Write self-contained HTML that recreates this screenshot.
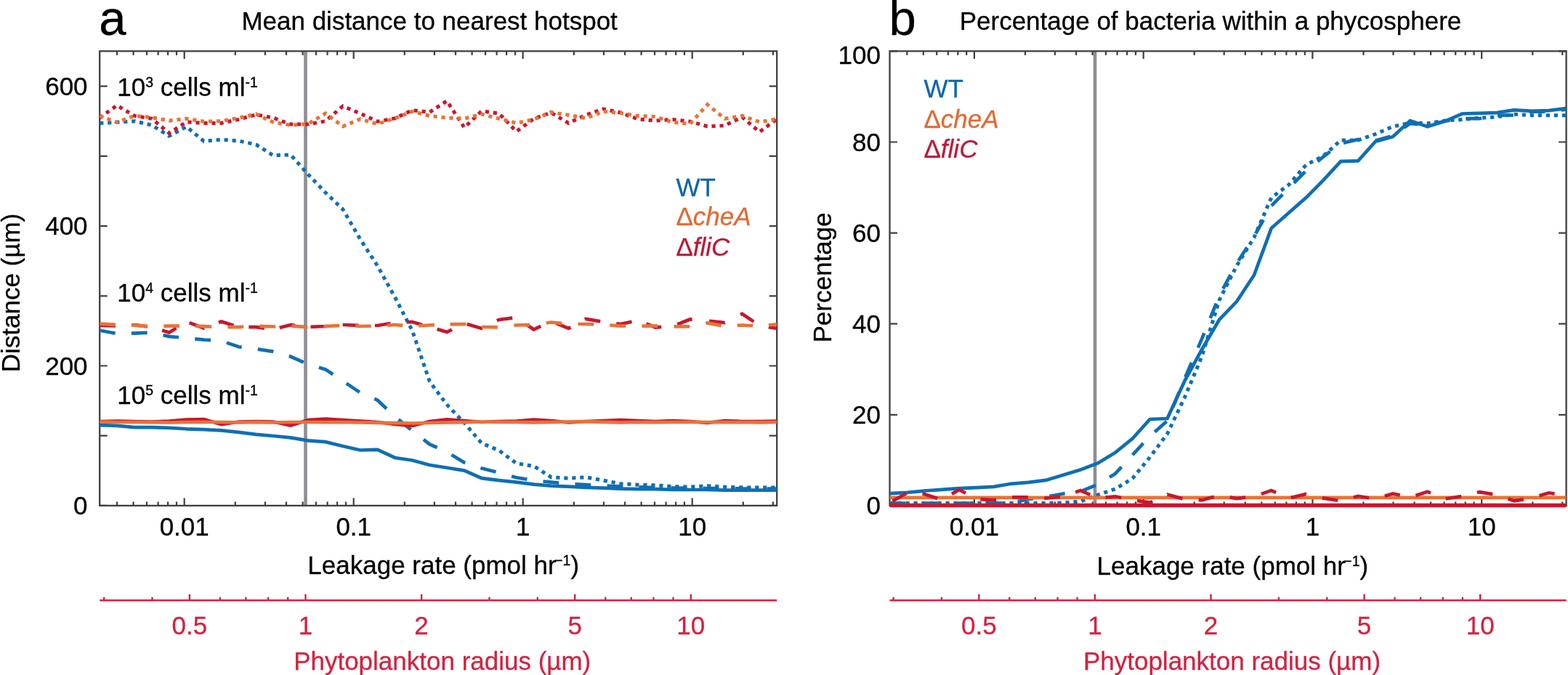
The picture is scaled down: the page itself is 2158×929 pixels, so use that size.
<!DOCTYPE html>
<html><head><meta charset="utf-8"><title>Figure</title>
<style>html,body{margin:0;padding:0;background:#fff;width:2158px;height:929px;overflow:hidden}</style>
</head><body>
<svg width="2158" height="929" viewBox="0 0 2158 929" style="display:block">
<g font-family="'Liberation Sans', sans-serif">
<rect width="2158" height="929" fill="#fff"/>
<defs>
<clipPath id="ca"><rect x="137.2" y="70.4" width="932.0" height="628.5"/></clipPath>
<clipPath id="cb"><rect x="1224.5" y="70.4" width="931.1" height="629.5"/></clipPath>
</defs>
<line x1="420.5" y1="70.4" x2="420.5" y2="695.9" stroke="#8e8e93" stroke-width="4.6"/>
<path d="M161.0 695.9L161.0 690.4 M161.0 70.4L161.0 75.9 M183.6 695.9L183.6 690.4 M183.6 70.4L183.6 75.9 M202.0 695.9L202.0 690.4 M202.0 70.4L202.0 75.9 M217.6 695.9L217.6 690.4 M217.6 70.4L217.6 75.9 M231.1 695.9L231.1 690.4 M231.1 70.4L231.1 75.9 M243.0 695.9L243.0 690.4 M243.0 70.4L243.0 75.9 M253.7 695.9L253.7 685.4 M253.7 70.4L253.7 80.9 M323.8 695.9L323.8 690.4 M323.8 70.4L323.8 75.9 M364.9 695.9L364.9 690.4 M364.9 70.4L364.9 75.9 M394.0 695.9L394.0 690.4 M394.0 70.4L394.0 75.9 M416.6 695.9L416.6 690.4 M416.6 70.4L416.6 75.9 M435.0 695.9L435.0 690.4 M435.0 70.4L435.0 75.9 M450.6 695.9L450.6 690.4 M450.6 70.4L450.6 75.9 M464.1 695.9L464.1 690.4 M464.1 70.4L464.1 75.9 M476.0 695.9L476.0 690.4 M476.0 70.4L476.0 75.9 M486.7 695.9L486.7 685.4 M486.7 70.4L486.7 80.9 M556.8 695.9L556.8 690.4 M556.8 70.4L556.8 75.9 M597.9 695.9L597.9 690.4 M597.9 70.4L597.9 75.9 M627.0 695.9L627.0 690.4 M627.0 70.4L627.0 75.9 M649.6 695.9L649.6 690.4 M649.6 70.4L649.6 75.9 M668.0 695.9L668.0 690.4 M668.0 70.4L668.0 75.9 M683.6 695.9L683.6 690.4 M683.6 70.4L683.6 75.9 M697.1 695.9L697.1 690.4 M697.1 70.4L697.1 75.9 M709.0 695.9L709.0 690.4 M709.0 70.4L709.0 75.9 M719.7 695.9L719.7 685.4 M719.7 70.4L719.7 80.9 M789.8 695.9L789.8 690.4 M789.8 70.4L789.8 75.9 M830.9 695.9L830.9 690.4 M830.9 70.4L830.9 75.9 M860.0 695.9L860.0 690.4 M860.0 70.4L860.0 75.9 M882.6 695.9L882.6 690.4 M882.6 70.4L882.6 75.9 M901.0 695.9L901.0 690.4 M901.0 70.4L901.0 75.9 M916.6 695.9L916.6 690.4 M916.6 70.4L916.6 75.9 M930.1 695.9L930.1 690.4 M930.1 70.4L930.1 75.9 M942.0 695.9L942.0 690.4 M942.0 70.4L942.0 75.9 M952.7 695.9L952.7 685.4 M952.7 70.4L952.7 80.9 M1022.8 695.9L1022.8 690.4 M1022.8 70.4L1022.8 75.9 M1063.9 695.9L1063.9 690.4 M1063.9 70.4L1063.9 75.9 M137.2 695.9L147.7 695.9 M1069.2 695.9L1058.7 695.9 M137.2 599.7L147.7 599.7 M1069.2 599.7L1058.7 599.7 M137.2 503.5L147.7 503.5 M1069.2 503.5L1058.7 503.5 M137.2 407.3L147.7 407.3 M1069.2 407.3L1058.7 407.3 M137.2 311.1L147.7 311.1 M1069.2 311.1L1058.7 311.1 M137.2 214.9L147.7 214.9 M1069.2 214.9L1058.7 214.9 M137.2 118.7L147.7 118.7 M1069.2 118.7L1058.7 118.7" stroke="#404040" stroke-width="2.2" fill="none"/>
<rect x="137.2" y="70.4" width="932.0" height="625.5" fill="none" stroke="#404040" stroke-width="2.3"/>
<polyline points="137.2,169.4 161.1,168.3 185.0,166.7 208.9,172.2 232.8,187.2 256.7,174.4 280.6,194.4 304.5,192.2 328.4,193.9 352.3,198.9 376.2,214.0 400.1,213.0 424.0,240.0 447.9,265.0 471.8,288.0 495.7,329.0 519.6,366.0 543.5,409.0 567.4,455.0 591.3,525.0 615.1,557.0 639.0,582.0 662.9,610.0 686.8,620.0 710.7,637.7 734.6,641.6 758.5,656.7 782.4,658.2 806.3,656.7 830.2,661.2 854.1,665.7 878.0,667.2 901.9,667.8 925.8,669.6 949.7,670.2 973.6,668.7 997.5,670.2 1021.4,670.8 1045.3,671.1 1069.2,671.1" fill="none" stroke="#0f6fb3" stroke-width="5.0" stroke-linejoin="miter" stroke-miterlimit="3" stroke-linecap="butt" stroke-dasharray="5.2 5.8" clip-path="url(#ca)"/>
<polyline points="137.2,454.7 161.1,459.2 185.0,458.6 208.9,457.7 232.8,463.1 256.7,465.2 280.6,467.6 304.5,469.1 328.4,477.3 352.3,480.3 376.2,483.9 400.1,490.8 424.0,501.5 447.9,508.4 471.8,524.3 495.7,540.4 519.6,550.7 543.5,573.3 567.4,593.0 591.3,611.4 615.1,622.0 639.0,636.5 662.9,644.6 686.8,650.6 710.7,657.3 734.6,661.2 758.5,663.6 782.4,665.7 806.3,667.2 830.2,668.5 854.1,669.5 878.0,670.2 901.9,671.0 925.8,671.5 949.7,672.0 973.6,672.0 997.5,672.3 1021.4,672.5 1045.3,672.6 1069.2,672.6" fill="none" stroke="#0f6fb3" stroke-width="4.7" stroke-linejoin="miter" stroke-miterlimit="3" stroke-linecap="butt" stroke-dasharray="21.8 22.3" clip-path="url(#ca)"/>
<polyline points="137.2,585.2 161.1,585.8 185.0,588.2 208.9,588.2 232.8,588.8 256.7,590.3 280.6,591.2 304.5,592.4 328.4,594.9 352.3,597.9 376.2,600.0 400.1,602.4 424.0,606.3 447.9,608.2 471.8,614.0 495.7,619.5 519.6,618.8 543.5,630.0 567.4,633.5 591.3,640.0 615.1,643.7 639.0,647.6 662.9,658.2 686.8,661.2 710.7,663.6 734.6,666.6 758.5,668.7 782.4,669.6 806.3,670.8 830.2,671.7 854.1,672.6 878.0,673.2 901.9,673.2 925.8,673.8 949.7,674.0 973.6,674.0 997.5,674.7 1021.4,674.7 1045.3,674.7 1069.2,674.7" fill="none" stroke="#0f6fb3" stroke-width="4.7" stroke-linejoin="miter" stroke-miterlimit="3" stroke-linecap="butt" clip-path="url(#ca)"/>
<polyline points="137.2,162.2 161.1,145.0 185.0,159.4 208.9,163.3 232.8,183.3 256.7,167.8 280.6,169.4 304.5,169.4 328.4,164.4 352.3,157.8 376.2,162.2 400.1,171.1 424.0,171.1 447.9,166.7 471.8,146.1 495.7,156.1 519.6,167.2 543.5,162.8 567.4,151.7 591.3,154.4 615.1,138.9 639.0,175.6 662.9,152.8 686.8,156.1 710.7,181.1 734.6,163.3 758.5,155.0 782.4,169.4 806.3,158.3 830.2,150.0 854.1,155.0 878.0,163.9 901.9,166.1 925.8,164.4 949.7,167.2 973.6,173.9 997.5,172.8 1021.4,161.2 1045.3,181.5 1069.2,163.9" fill="none" stroke="#c8172e" stroke-width="5.0" stroke-linejoin="miter" stroke-miterlimit="3" stroke-linecap="butt" stroke-dasharray="5.2 5.8" clip-path="url(#ca)"/>
<polyline points="137.2,448.0 161.1,448.5 185.0,447.1 208.9,450.1 232.8,457.7 256.7,442.6 280.6,451.7 304.5,442.6 328.4,450.1 352.3,450.1 376.2,453.2 400.1,447.1 424.0,450.1 447.9,449.0 471.8,447.0 495.7,448.0 519.6,448.0 543.5,444.0 567.4,443.0 591.3,450.0 615.1,457.0 639.0,445.0 662.9,452.0 686.8,440.0 710.7,437.0 734.6,453.5 758.5,442.0 782.4,452.0 806.3,439.0 830.2,443.0 854.1,446.0 878.0,441.0 901.9,450.5 925.8,449.0 949.7,439.5 973.6,441.5 997.5,444.0 1021.4,432.0 1045.3,448.0 1069.2,452.0" fill="none" stroke="#c8172e" stroke-width="4.7" stroke-linejoin="miter" stroke-miterlimit="3" stroke-linecap="butt" stroke-dasharray="21.80 22.26 21.80 20.89 21.80 20.88 21.80 21.34 21.80 21.05 21.80 20.99 21.80 21.71 21.80 22.47 21.80 22.47 21.80 22.29 21.80 21.57 21.80 22.84 21.80 22.84 21.80 23.48 21.80 23.31 21.80 22.21 21.80 22.11 21.80 20.89 21.80 22.47 21.80 23.51 21.80 23.82 21.80 22.30 21.80 22.30" clip-path="url(#ca)"/>
<polyline points="137.2,580.0 161.1,579.5 185.0,580.0 208.9,580.5 232.8,579.5 256.7,577.5 280.6,577.0 304.5,584.0 328.4,580.5 352.3,580.0 376.2,580.5 400.1,585.5 424.0,578.0 447.9,576.5 471.8,578.0 495.7,579.5 519.6,581.0 543.5,584.0 567.4,586.0 591.3,580.0 615.1,577.3 639.0,579.0 662.9,581.0 686.8,580.0 710.7,579.5 734.6,577.5 758.5,579.0 782.4,581.5 806.3,580.0 830.2,579.0 854.1,578.0 878.0,579.0 901.9,580.0 925.8,579.0 949.7,580.0 973.6,582.0 997.5,579.0 1021.4,580.0 1045.3,580.0 1069.2,579.5" fill="none" stroke="#c8172e" stroke-width="4.7" stroke-linejoin="miter" stroke-miterlimit="3" stroke-linecap="butt" clip-path="url(#ca)"/>
<polyline points="137.2,159.4 161.1,168.3 185.0,159.4 208.9,161.7 232.8,166.1 256.7,163.3 280.6,167.2 304.5,166.7 328.4,162.2 352.3,157.2 376.2,168.3 400.1,172.2 424.0,170.6 447.9,156.1 471.8,173.9 495.7,163.9 519.6,170.6 543.5,162.8 567.4,153.3 591.3,159.4 615.1,162.2 639.0,163.3 662.9,157.2 686.8,163.3 710.7,169.4 734.6,164.4 758.5,154.4 782.4,158.3 806.3,162.8 830.2,153.3 854.1,155.6 878.0,159.4 901.9,160.6 925.8,168.3 949.7,170.6 973.6,143.9 997.5,163.3 1021.4,159.4 1045.3,167.8 1069.2,163.9" fill="none" stroke="#ea7236" stroke-width="5.0" stroke-linejoin="miter" stroke-miterlimit="3" stroke-linecap="butt" stroke-dasharray="5.2 5.8" clip-path="url(#ca)"/>
<polyline points="137.2,445.6 161.1,447.1 185.0,447.7 208.9,449.5 232.8,448.6 256.7,448.6 280.6,449.2 304.5,450.1 328.4,450.1 352.3,448.6 376.2,449.5 400.1,448.6 424.0,450.1 447.9,449.0 471.8,448.0 495.7,449.0 519.6,448.6 543.5,447.0 567.4,449.0 591.3,447.5 615.1,446.5 639.0,446.0 662.9,450.0 686.8,450.5 710.7,447.5 734.6,447.0 758.5,443.5 782.4,446.0 806.3,446.0 830.2,447.0 854.1,448.7 878.0,448.6 901.9,448.6 925.8,449.3 949.7,449.3 973.6,444.5 997.5,449.0 1021.4,447.5 1045.3,448.7 1069.2,446.4" fill="none" stroke="#ea7236" stroke-width="4.7" stroke-linejoin="miter" stroke-miterlimit="3" stroke-linecap="butt" stroke-dasharray="21.80 22.30 21.80 22.30 21.80 22.30 21.80 22.30 21.80 22.30 21.80 22.30 21.80 22.14 21.80 21.86 21.80 21.86 21.80 21.80 21.80 21.71 21.80 22.06 21.80 22.70 21.80 22.70 21.80 22.15 21.80 22.06 21.80 22.30 21.80 22.36 21.80 22.36 21.80 22.05 21.80 21.55 21.80 22.15" clip-path="url(#ca)"/>
<polyline points="137.2,580.5 161.1,581.0 185.0,581.0 208.9,581.2 232.8,581.5 256.7,581.0 280.6,580.8 304.5,581.0 328.4,581.3 352.3,581.0 376.2,581.5 400.1,581.0 424.0,581.0 447.9,581.2 471.8,581.0 495.7,581.5 519.6,581.8 543.5,582.2 567.4,582.5 591.3,582.0 615.1,581.5 639.0,581.2 662.9,580.5 686.8,580.8 710.7,581.0 734.6,581.3 758.5,581.0 782.4,580.5 806.3,580.2 830.2,580.8 854.1,581.5 878.0,581.0 901.9,581.2 925.8,581.0 949.7,580.8 973.6,581.0 997.5,581.2 1021.4,581.0 1045.3,581.4 1069.2,581.0" fill="none" stroke="#ea7236" stroke-width="4.7" stroke-linejoin="miter" stroke-miterlimit="3" stroke-linecap="butt" clip-path="url(#ca)"/>
<text transform="translate(136.3,48.3)" font-size="67" text-anchor="start" fill="#000" stroke="#000" stroke-width="0.3">a</text>
<text transform="translate(332.4,41.3) scale(1,1.02)" font-size="35" text-anchor="start" fill="#000" stroke="#000" stroke-width="0.3">Mean distance to nearest hotspot</text>
<text transform="translate(120.6,708.2) scale(1,1.02)" font-size="35" text-anchor="end" fill="#000" stroke="#000" stroke-width="0.3">0</text>
<text transform="translate(120.6,515.8) scale(1,1.02)" font-size="35" text-anchor="end" fill="#000" stroke="#000" stroke-width="0.3">200</text>
<text transform="translate(120.6,323.4) scale(1,1.02)" font-size="35" text-anchor="end" fill="#000" stroke="#000" stroke-width="0.3">400</text>
<text transform="translate(120.6,131.0) scale(1,1.02)" font-size="35" text-anchor="end" fill="#000" stroke="#000" stroke-width="0.3">600</text>
<text transform="translate(253.7,737.0) scale(1,1.02)" font-size="35" text-anchor="middle" fill="#000" stroke="#000" stroke-width="0.3">0.01</text>
<text transform="translate(486.7,737.0) scale(1,1.02)" font-size="35" text-anchor="middle" fill="#000" stroke="#000" stroke-width="0.3">0.1</text>
<text transform="translate(719.7,737.0) scale(1,1.02)" font-size="35" text-anchor="middle" fill="#000" stroke="#000" stroke-width="0.3">1</text>
<text transform="translate(952.7,737.0) scale(1,1.02)" font-size="35" text-anchor="middle" fill="#000" stroke="#000" stroke-width="0.3">10</text>
<text transform="translate(610.2,790.2) scale(1,1.02)" font-size="35" text-anchor="middle" fill="#000" stroke="#000" stroke-width="0.3">Leakage rate (pmol hr<tspan font-size="19.5" dx="-2.5" dy="-11.5">−1</tspan><tspan dy="11.5">)</tspan></text>
<text transform="translate(27.3,403.0) rotate(-90) scale(1,1.02)" font-size="35" text-anchor="middle" fill="#000" stroke="#000" stroke-width="0.3">Distance (µm)</text>
<text transform="translate(161.3,132.0) scale(1,1.02)" font-size="35" text-anchor="start" fill="#000" stroke="#000" stroke-width="0.3">10<tspan font-size="19.5" dy="-12">3</tspan><tspan dy="12"> cells ml</tspan><tspan font-size="19.5" dy="-12">-1</tspan></text>
<text transform="translate(161.3,415.0) scale(1,1.02)" font-size="35" text-anchor="start" fill="#000" stroke="#000" stroke-width="0.3">10<tspan font-size="19.5" dy="-12">4</tspan><tspan dy="12"> cells ml</tspan><tspan font-size="19.5" dy="-12">-1</tspan></text>
<text transform="translate(161.3,556.0) scale(1,1.02)" font-size="35" text-anchor="start" fill="#000" stroke="#000" stroke-width="0.3">10<tspan font-size="19.5" dy="-12">5</tspan><tspan dy="12"> cells ml</tspan><tspan font-size="19.5" dy="-12">-1</tspan></text>
<text transform="translate(930.4,270.0) scale(1,1.02)" font-size="35" text-anchor="start" fill="#0d66ab" stroke="#0d66ab" stroke-width="0.3">WT</text>
<text transform="translate(930.4,310.0) scale(1,1.02)" font-size="35" text-anchor="start" fill="#df6b34" stroke="#df6b34" stroke-width="0.3">Δ<tspan font-style="italic">cheA</tspan></text>
<text transform="translate(930.4,352.0) scale(1,1.02)" font-size="35" text-anchor="start" fill="#b91a38" stroke="#b91a38" stroke-width="0.3">Δ<tspan font-style="italic">fliC</tspan></text>
<path d="M143.2 826.2L143.2 821.7 M209.5 826.2L209.5 821.7 M260.9 826.2L260.9 817.7 M302.9 826.2L302.9 821.7 M338.4 826.2L338.4 821.7 M369.1 826.2L369.1 821.7 M396.2 826.2L396.2 821.7 M420.5 826.2L420.5 817.7 M580.1 826.2L580.1 817.7 M673.5 826.2L673.5 821.7 M739.8 826.2L739.8 821.7 M791.2 826.2L791.2 817.7 M833.2 826.2L833.2 821.7 M868.7 826.2L868.7 821.7 M899.4 826.2L899.4 821.7 M926.5 826.2L926.5 821.7 M950.8 826.2L950.8 817.7" stroke="#d22340" stroke-width="2.4" fill="none"/>
<line x1="137.2" y1="826.2" x2="1069.2" y2="826.2" stroke="#d22340" stroke-width="2.6"/>
<text transform="translate(260.9,873.0) scale(1,1.02)" font-size="35" text-anchor="middle" fill="#d22340" stroke="#d22340" stroke-width="0.3">0.5</text>
<text transform="translate(420.5,873.0) scale(1,1.02)" font-size="35" text-anchor="middle" fill="#d22340" stroke="#d22340" stroke-width="0.3">1</text>
<text transform="translate(580.1,873.0) scale(1,1.02)" font-size="35" text-anchor="middle" fill="#d22340" stroke="#d22340" stroke-width="0.3">2</text>
<text transform="translate(791.2,873.0) scale(1,1.02)" font-size="35" text-anchor="middle" fill="#d22340" stroke="#d22340" stroke-width="0.3">5</text>
<text transform="translate(950.8,873.0) scale(1,1.02)" font-size="35" text-anchor="middle" fill="#d22340" stroke="#d22340" stroke-width="0.3">10</text>
<text transform="translate(608.7,921.5) scale(1,1.02)" font-size="35" text-anchor="middle" fill="#d22340" stroke="#d22340" stroke-width="0.3">Phytoplankton radius (µm)</text>
<line x1="1507" y1="70.4" x2="1507" y2="695.9" stroke="#8e8e93" stroke-width="4.6"/>
<path d="M1248.3 695.9L1248.3 690.4 M1248.3 70.4L1248.3 75.9 M1270.8 695.9L1270.8 690.4 M1270.8 70.4L1270.8 75.9 M1289.2 695.9L1289.2 690.4 M1289.2 70.4L1289.2 75.9 M1304.8 695.9L1304.8 690.4 M1304.8 70.4L1304.8 75.9 M1318.3 695.9L1318.3 690.4 M1318.3 70.4L1318.3 75.9 M1330.2 695.9L1330.2 690.4 M1330.2 70.4L1330.2 75.9 M1340.9 695.9L1340.9 685.4 M1340.9 70.4L1340.9 80.9 M1411.0 695.9L1411.0 690.4 M1411.0 70.4L1411.0 75.9 M1451.9 695.9L1451.9 690.4 M1451.9 70.4L1451.9 75.9 M1481.0 695.9L1481.0 690.4 M1481.0 70.4L1481.0 75.9 M1503.6 695.9L1503.6 690.4 M1503.6 70.4L1503.6 75.9 M1522.0 695.9L1522.0 690.4 M1522.0 70.4L1522.0 75.9 M1537.6 695.9L1537.6 690.4 M1537.6 70.4L1537.6 75.9 M1551.1 695.9L1551.1 690.4 M1551.1 70.4L1551.1 75.9 M1563.0 695.9L1563.0 690.4 M1563.0 70.4L1563.0 75.9 M1573.7 695.9L1573.7 685.4 M1573.7 70.4L1573.7 80.9 M1643.7 695.9L1643.7 690.4 M1643.7 70.4L1643.7 75.9 M1684.7 695.9L1684.7 690.4 M1684.7 70.4L1684.7 75.9 M1713.8 695.9L1713.8 690.4 M1713.8 70.4L1713.8 75.9 M1736.4 695.9L1736.4 690.4 M1736.4 70.4L1736.4 75.9 M1754.8 695.9L1754.8 690.4 M1754.8 70.4L1754.8 75.9 M1770.4 695.9L1770.4 690.4 M1770.4 70.4L1770.4 75.9 M1783.9 695.9L1783.9 690.4 M1783.9 70.4L1783.9 75.9 M1795.8 695.9L1795.8 690.4 M1795.8 70.4L1795.8 75.9 M1806.4 695.9L1806.4 685.4 M1806.4 70.4L1806.4 80.9 M1876.5 695.9L1876.5 690.4 M1876.5 70.4L1876.5 75.9 M1917.5 695.9L1917.5 690.4 M1917.5 70.4L1917.5 75.9 M1946.6 695.9L1946.6 690.4 M1946.6 70.4L1946.6 75.9 M1969.1 695.9L1969.1 690.4 M1969.1 70.4L1969.1 75.9 M1987.6 695.9L1987.6 690.4 M1987.6 70.4L1987.6 75.9 M2003.2 695.9L2003.2 690.4 M2003.2 70.4L2003.2 75.9 M2016.7 695.9L2016.7 690.4 M2016.7 70.4L2016.7 75.9 M2028.6 695.9L2028.6 690.4 M2028.6 70.4L2028.6 75.9 M2039.2 695.9L2039.2 685.4 M2039.2 70.4L2039.2 80.9 M2109.3 695.9L2109.3 690.4 M2109.3 70.4L2109.3 75.9 M2150.3 695.9L2150.3 690.4 M2150.3 70.4L2150.3 75.9 M1224.5 695.9L1235.0 695.9 M2155.6 695.9L2145.1 695.9 M1224.5 570.8L1235.0 570.8 M2155.6 570.8L2145.1 570.8 M1224.5 445.7L1235.0 445.7 M2155.6 445.7L2145.1 445.7 M1224.5 320.6L1235.0 320.6 M2155.6 320.6L2145.1 320.6 M1224.5 195.5L1235.0 195.5 M2155.6 195.5L2145.1 195.5 M1224.5 70.4L1235.0 70.4 M2155.6 70.4L2145.1 70.4" stroke="#404040" stroke-width="2.2" fill="none"/>
<rect x="1224.5" y="70.4" width="931.1" height="625.5" fill="none" stroke="#404040" stroke-width="2.3"/>
<polyline points="1224.5,692.5 1248.4,692.5 1272.2,692.5 1296.1,692.5 1320.0,692.5 1343.9,692.5 1367.7,692.5 1391.6,692.5 1415.5,692.5 1439.4,692.5 1463.2,692.0 1487.1,690.0 1511.0,681.0 1534.9,673.0 1558.7,658.4 1582.6,629.3 1606.5,597.0 1630.4,547.0 1654.2,490.4 1678.1,413.0 1702.0,365.8 1725.9,327.0 1749.7,272.1 1773.6,254.4 1797.5,226.9 1821.4,214.6 1845.2,193.0 1869.1,193.0 1893.0,184.5 1916.9,174.2 1940.7,169.1 1964.6,169.8 1988.5,166.1 2012.4,164.6 2036.2,162.4 2060.1,160.9 2084.0,157.3 2107.9,158.7 2131.7,158.7 2155.6,158.7" fill="none" stroke="#0f6fb3" stroke-width="5.0" stroke-linejoin="miter" stroke-miterlimit="3" stroke-linecap="butt" stroke-dasharray="5.2 5.8" clip-path="url(#cb)"/>
<polyline points="1224.5,692.5 1248.4,692.5 1272.2,692.5 1296.1,692.5 1320.0,692.5 1343.9,692.5 1367.7,692.5 1391.6,692.0 1415.5,687.0 1439.4,684.0 1463.2,679.5 1487.1,676.5 1511.0,666.5 1534.9,651.9 1558.7,626.1 1582.6,600.3 1606.5,579.3 1630.4,521.1 1654.2,466.2 1678.1,407.0 1702.0,362.6 1725.9,325.4 1749.7,283.4 1773.6,259.2 1797.5,235.0 1821.4,215.6 1845.2,197.5 1869.1,191.9 1893.0,193.4 1916.9,186.7 1940.7,169.8 1964.6,172.7 1988.5,166.8 2012.4,163.2 2036.2,163.2 2060.1,158.7 2084.0,158.7 2107.9,153.6 2131.7,153.6 2155.6,150.6" fill="none" stroke="#0f6fb3" stroke-width="4.7" stroke-linejoin="miter" stroke-miterlimit="3" stroke-linecap="butt" stroke-dasharray="21.8 22.3" clip-path="url(#cb)"/>
<polyline points="1224.5,679.2 1248.4,677.9 1272.2,675.5 1296.1,673.8 1320.0,672.2 1343.9,671.1 1367.7,669.8 1391.6,665.8 1415.5,663.8 1439.4,660.9 1463.2,653.7 1487.1,646.4 1511.0,637.4 1534.9,622.9 1558.7,603.5 1582.6,577.0 1606.5,576.0 1630.4,524.4 1654.2,480.7 1678.1,440.0 1702.0,415.0 1725.9,378.7 1749.7,314.1 1773.6,293.1 1797.5,272.1 1821.4,247.9 1845.2,222.1 1869.1,221.4 1893.0,194.8 1916.9,188.2 1940.7,166.1 1964.6,174.2 1988.5,166.8 2012.4,156.5 2036.2,155.8 2060.1,155.1 2084.0,151.4 2107.9,152.8 2131.7,152.1 2155.6,149.2" fill="none" stroke="#0f6fb3" stroke-width="4.7" stroke-linejoin="miter" stroke-miterlimit="3" stroke-linecap="butt" clip-path="url(#cb)"/>
<polyline points="1224.5,684.8 1248.4,684.8 1272.2,684.8 1296.1,684.8 1320.0,684.8 1343.9,684.8 1367.7,684.8 1391.6,684.8 1415.5,684.8 1439.4,684.8 1463.2,684.8 1487.1,684.8 1511.0,684.8 1534.9,684.8 1558.7,684.8 1582.6,684.8 1606.5,684.8 1630.4,684.8 1654.2,684.8 1678.1,684.8 1702.0,684.8 1725.9,684.8 1749.7,684.8 1773.6,684.8 1797.5,684.8 1821.4,684.8 1845.2,684.8 1869.1,684.8 1893.0,684.8 1916.9,684.8 1940.7,684.8 1964.6,684.8 1988.5,684.8 2012.4,684.8 2036.2,684.8 2060.1,684.8 2084.0,684.8 2107.9,684.8 2131.7,684.8 2155.6,684.8" fill="none" stroke="#ea7236" stroke-width="4.7" stroke-linejoin="miter" stroke-miterlimit="3" stroke-linecap="butt" clip-path="url(#cb)"/>
<polyline points="1224.5,692.0 1248.4,678.3 1272.2,680.0 1296.1,688.0 1320.0,674.0 1343.9,686.7 1367.7,688.3 1391.6,684.4 1415.5,684.4 1439.4,685.6 1463.2,683.3 1487.1,675.0 1511.0,685.6 1534.9,683.3 1558.7,688.3 1582.6,691.7 1606.5,680.6 1630.4,687.2 1654.2,688.3 1678.1,681.7 1702.0,686.1 1725.9,683.3 1749.7,675.0 1773.6,685.6 1797.5,680.0 1821.4,685.6 1845.2,689.4 1869.1,682.8 1893.0,686.7 1916.9,679.4 1940.7,684.4 1964.6,676.7 1988.5,686.7 2012.4,682.8 2036.2,677.2 2060.1,681.1 2084.0,689.4 2107.9,685.6 2131.7,678.3 2155.6,682.2" fill="none" stroke="#c8172e" stroke-width="4.7" stroke-linejoin="miter" stroke-miterlimit="3" stroke-linecap="butt" stroke-dasharray="21.8 22.3" stroke-dashoffset="-4.5" clip-path="url(#cb)"/>
<polyline points="1224.5,695.5 1248.4,695.5 1272.2,695.5 1296.1,695.5 1320.0,695.5 1343.9,695.5 1367.7,695.5 1391.6,695.5 1415.5,695.5 1439.4,695.5 1463.2,695.5 1487.1,695.5 1511.0,695.5 1534.9,695.5 1558.7,695.5 1582.6,695.5 1606.5,695.5 1630.4,695.5 1654.2,695.5 1678.1,695.5 1702.0,695.5 1725.9,695.5 1749.7,695.5 1773.6,695.5 1797.5,695.5 1821.4,695.5 1845.2,695.5 1869.1,695.5 1893.0,695.5 1916.9,695.5 1940.7,695.5 1964.6,695.5 1988.5,695.5 2012.4,695.5 2036.2,695.5 2060.1,695.5 2084.0,695.5 2107.9,695.5 2131.7,695.5 2155.6,695.5" fill="none" stroke="#c8172e" stroke-width="5.3" stroke-linejoin="miter" stroke-miterlimit="3" stroke-linecap="butt" clip-path="url(#cb)"/>
<text transform="translate(1223.5,48.3)" font-size="67" text-anchor="start" fill="#000" stroke="#000" stroke-width="0.3">b</text>
<text transform="translate(1320.7,40.5) scale(1,1.02)" font-size="35" text-anchor="start" fill="#000" stroke="#000" stroke-width="0.3">Percentage of bacteria within a phycosphere</text>
<text transform="translate(1212.0,708.2) scale(1,1.02)" font-size="35" text-anchor="end" fill="#000" stroke="#000" stroke-width="0.3">0</text>
<text transform="translate(1212.0,583.1) scale(1,1.02)" font-size="35" text-anchor="end" fill="#000" stroke="#000" stroke-width="0.3">20</text>
<text transform="translate(1212.0,458.0) scale(1,1.02)" font-size="35" text-anchor="end" fill="#000" stroke="#000" stroke-width="0.3">40</text>
<text transform="translate(1212.0,332.9) scale(1,1.02)" font-size="35" text-anchor="end" fill="#000" stroke="#000" stroke-width="0.3">60</text>
<text transform="translate(1212.0,207.8) scale(1,1.02)" font-size="35" text-anchor="end" fill="#000" stroke="#000" stroke-width="0.3">80</text>
<text transform="translate(1212.0,87.9) scale(1,1.02)" font-size="35" text-anchor="end" fill="#000" stroke="#000" stroke-width="0.3">100</text>
<text transform="translate(1340.9,737.0) scale(1,1.02)" font-size="35" text-anchor="middle" fill="#000" stroke="#000" stroke-width="0.3">0.01</text>
<text transform="translate(1573.7,737.0) scale(1,1.02)" font-size="35" text-anchor="middle" fill="#000" stroke="#000" stroke-width="0.3">0.1</text>
<text transform="translate(1806.4,737.0) scale(1,1.02)" font-size="35" text-anchor="middle" fill="#000" stroke="#000" stroke-width="0.3">1</text>
<text transform="translate(2039.2,737.0) scale(1,1.02)" font-size="35" text-anchor="middle" fill="#000" stroke="#000" stroke-width="0.3">10</text>
<text transform="translate(1696.4,791.0) scale(1,1.02)" font-size="35" text-anchor="middle" fill="#000" stroke="#000" stroke-width="0.3">Leakage rate (pmol hr<tspan font-size="19.5" dx="-2.5" dy="-11.5">−1</tspan><tspan dy="11.5">)</tspan></text>
<text transform="translate(1144.2,382.0) rotate(-90) scale(1,1.02)" font-size="35" text-anchor="middle" fill="#000" stroke="#000" stroke-width="0.3">Percentage</text>
<text transform="translate(1271.5,134.4) scale(1,1.02)" font-size="35" text-anchor="start" fill="#0d66ab" stroke="#0d66ab" stroke-width="0.3">WT</text>
<text transform="translate(1271.5,175.7) scale(1,1.02)" font-size="35" text-anchor="start" fill="#df6b34" stroke="#df6b34" stroke-width="0.3">Δ<tspan font-style="italic">cheA</tspan></text>
<text transform="translate(1271.5,217.0) scale(1,1.02)" font-size="35" text-anchor="start" fill="#b91a38" stroke="#b91a38" stroke-width="0.3">Δ<tspan font-style="italic">fliC</tspan></text>
<path d="M1229.6 826.2L1229.6 821.7 M1295.9 826.2L1295.9 821.7 M1347.3 826.2L1347.3 817.7 M1389.3 826.2L1389.3 821.7 M1424.8 826.2L1424.8 821.7 M1455.5 826.2L1455.5 821.7 M1482.6 826.2L1482.6 821.7 M1506.9 826.2L1506.9 817.7 M1666.5 826.2L1666.5 817.7 M1759.9 826.2L1759.9 821.7 M1826.2 826.2L1826.2 821.7 M1877.6 826.2L1877.6 817.7 M1919.6 826.2L1919.6 821.7 M1955.1 826.2L1955.1 821.7 M1985.8 826.2L1985.8 821.7 M2012.9 826.2L2012.9 821.7 M2037.2 826.2L2037.2 817.7" stroke="#d22340" stroke-width="2.4" fill="none"/>
<line x1="1224.5" y1="826.2" x2="2155.6" y2="826.2" stroke="#d22340" stroke-width="2.6"/>
<text transform="translate(1347.3,873.0) scale(1,1.02)" font-size="35" text-anchor="middle" fill="#d22340" stroke="#d22340" stroke-width="0.3">0.5</text>
<text transform="translate(1506.9,873.0) scale(1,1.02)" font-size="35" text-anchor="middle" fill="#d22340" stroke="#d22340" stroke-width="0.3">1</text>
<text transform="translate(1666.5,873.0) scale(1,1.02)" font-size="35" text-anchor="middle" fill="#d22340" stroke="#d22340" stroke-width="0.3">2</text>
<text transform="translate(1877.6,873.0) scale(1,1.02)" font-size="35" text-anchor="middle" fill="#d22340" stroke="#d22340" stroke-width="0.3">5</text>
<text transform="translate(2037.2,873.0) scale(1,1.02)" font-size="35" text-anchor="middle" fill="#d22340" stroke="#d22340" stroke-width="0.3">10</text>
<text transform="translate(1695.5,921.5) scale(1,1.02)" font-size="35" text-anchor="middle" fill="#d22340" stroke="#d22340" stroke-width="0.3">Phytoplankton radius (µm)</text>
</g></svg>
</body></html>
